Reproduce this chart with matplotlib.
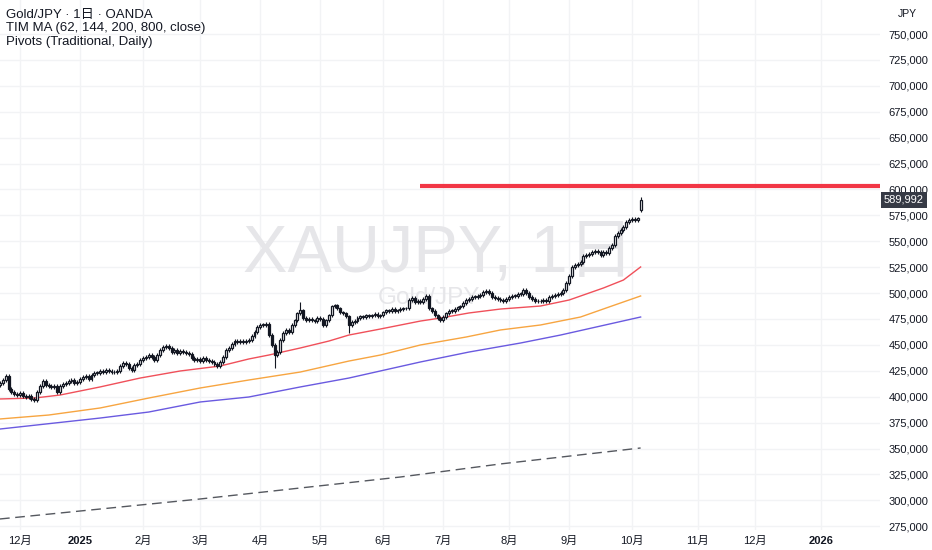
import numpy as np
import pandas as pd
import matplotlib
matplotlib.use("Agg")
import matplotlib.pyplot as plt
from matplotlib.transforms import blended_transform_factory

plt.rcParams['font.family'] = ['Liberation Sans', 'Noto Sans CJK JP']

# ---------------- data (JPY thousands) ----------------
CLOSE_K = [
    413.2, 416.1, 420.0, 407.4, 404.5, 402.6, 401.6,
    403.6, 400.7, 399.7, 400.7, 397.8, 396.8, 404.5, 410.3, 415.1, 411.3,
    410.3, 409.4, 410.3, 404.5, 410.3, 412.3, 413.2, 415.1, 416.1, 413.2,
    414.2, 417.1, 419.0, 420.0, 417.1, 420.9, 422.9, 422.9, 424.8, 423.8,
    425.8, 424.8, 423.8, 423.8, 424.8, 429.6, 432.5, 431.6, 427.7, 425.8,
    430.6, 431.6, 435.4, 437.3, 438.3, 440.2, 438.3, 435.4, 440.2, 445.1,
    448.0, 448.9, 447.0, 443.1, 445.1, 442.2, 444.1, 443.1, 442.2, 441.2,
    437.3, 435.4, 436.4, 434.4, 437.3, 435.4, 434.4, 433.5, 431.6, 429.6,
    433.5, 438.3, 445.1, 447.0, 450.9, 453.7, 452.8, 453.7, 452.8, 453.7,
    454.7, 458.6, 462.4, 467.3, 469.2, 469.2, 470.2, 459.5, 449.9, 440.2,
    443.1, 454.7, 461.5, 464.4, 462.4, 469.2, 473.8, 480.6, 483.5, 475.9,
    473.8, 474.9, 473.8, 473.0, 475.9, 474.9, 469.2, 473.8, 478.5, 487.3,
    488.3, 485.4, 481.5, 480.6, 477.5, 469.2, 472.0, 473.0, 475.9, 477.5,
    476.8, 478.5, 477.5, 478.5, 479.8, 477.5, 478.5, 481.5, 483.5, 482.7,
    484.6, 482.7, 483.5, 484.6, 485.4, 485.4, 493.3, 495.2, 491.4, 492.3,
    491.4, 494.3, 497.2, 485.4, 482.7, 478.5, 475.9, 473.8, 476.8, 480.6,
    482.7, 482.7, 484.6, 486.4, 487.3, 490.4, 493.3, 494.3, 496.2, 496.2,
    497.2, 498.1, 501.0, 502.0, 500.1, 496.2, 495.2, 494.3, 493.3, 492.3,
    494.3, 496.2, 497.2, 497.2, 499.1, 499.1, 503.0, 500.1, 496.2, 494.3,
    492.3, 492.3, 492.3, 493.3, 492.3, 496.2, 497.2, 498.1, 499.1, 500.1,
    503.0, 509.7, 516.5, 525.1, 527.1, 528.1, 530.0, 535.8, 536.7, 537.7,
    539.6, 540.6, 539.6, 536.7, 539.6, 538.7, 543.5, 546.4, 555.1, 558.0,
    560.9, 563.8, 568.6, 570.5, 571.5, 570.5, 572.0, 589.992,
]
FIRST_OPEN_K = 411.0
GAP_OPEN_K = {'2025-10-06': 580.0}
WICK_K = 1.6
EXTREME_HIGH_K = {'2025-04-22': 491.4, '2025-10-06': 592.7}
EXTREME_LOW_K = {'2024-12-09': 394.9, '2025-04-08': 427.7, '2025-05-15': 461.5}
LAST_PRICE = 589992
LAST_DATE = '2025-10-06'
HOLIDAYS = ['2024-12-25', '2025-01-01', '2025-04-18']

# moving averages: (bar number, value in thousands)
MA62_BARS = [0, 12, 21, 35, 49, 63, 77, 87, 94, 105, 115, 122, 133, 147, 154, 164, 175, 189, 199, 211, 218, 224]
MA62_K = [397.8, 398.7, 401.6, 409.4, 418.0, 424.8, 429.6, 436.4, 440.2, 447.0, 453.7, 459.5, 465.3,
          473.0, 475.9, 480.8, 484.6, 487.5, 493.3, 504.9, 512.6, 525.2]
MA144_BARS = [0, 17, 35, 52, 70, 87, 105, 122, 133, 147, 163, 175, 189, 203, 213, 224]
MA144_K = [378.5, 382.3, 389.1, 398.7, 408.4, 416.1, 423.8, 434.4, 440.2, 449.9, 457.6, 464.4, 469.2,
           476.9, 486.6, 497.2]
MA200_BARS = [0, 35, 52, 70, 87, 105, 122, 147, 164, 182, 196, 210, 224]
MA200_K = [368.8, 379.4, 385.2, 394.9, 399.7, 409.4, 418.0, 433.5, 443.1, 451.8, 459.5, 468.2, 476.9]
MA800_BARS = [0, 35, 70, 105, 140, 175, 224]
MA800_K = [282.0, 291.6, 301.3, 311.9, 322.5, 335.1, 350.5]

PIVOT = 603600
PIVOT_START = '2025-06-19'

Y_TICKS = list(range(275000, 750001, 25000))

LEGEND = ["Gold/JPY · 1日 · OANDA", "TIM MA (62, 144, 200, 800, close)", "Pivots (Traditional, Daily)"]
WATERMARK = "XAUJPY, 1日"
WATERMARK_SUB = "Gold/JPY"

# ---------------- build ----------------
n = len(CLOSE_K)
bd = pd.bdate_range('2024-11-01', LAST_DATE)
bd = bd[~bd.isin(pd.to_datetime(HOLIDAYS))]
dates = bd[-n:]
future = pd.bdate_range(pd.Timestamp(LAST_DATE) + pd.Timedelta(days=1), '2026-01-31')
all_dates = dates.append(future)
dkey = [d.strftime('%Y-%m-%d') for d in dates]

close = np.array(CLOSE_K) * 1000
opn = np.r_[FIRST_OPEN_K * 1000, close[:-1]]
for k, v in GAP_OPEN_K.items():
    opn[dkey.index(k)] = v * 1000
hi = np.maximum(opn, close) + WICK_K * 1000
lo = np.minimum(opn, close) - WICK_K * 1000
for k, v in EXTREME_HIGH_K.items():
    hi[dkey.index(k)] = v * 1000
for k, v in EXTREME_LOW_K.items():
    lo[dkey.index(k)] = v * 1000

x = np.arange(n)
W, H = 932, 550
fig = plt.figure(figsize=(W / 100, H / 100), dpi=100)
ax = fig.add_axes([0, 20 / H, 880 / W, 530 / H])
ax.set_facecolor('white')

px_per_bar = 2.86
dec2 = dkey.index('2024-12-02')
xmin = dec2 - 20 / px_per_bar
xmax = dec2 + 860 / px_per_bar
ax.set_xlim(xmin, xmax)
ax.set_ylim(271360, 782810)

# grid
months = pd.period_range('2024-12', '2026-01', freq='M')
tick_pos, tick_lab, tick_bold = [], [], []
for m in months:
    idx = np.where((all_dates.year == m.year) & (all_dates.month == m.month))[0]
    if len(idx) == 0:
        continue
    tick_pos.append(idx[0])
    if m.month == 1:
        tick_lab.append(str(m.year)); tick_bold.append(True)
    else:
        tick_lab.append(f"{m.month}月"); tick_bold.append(False)
for p in tick_pos:
    ax.axvline(p, color='#f2f3f5', lw=1, zorder=0)
for yv in Y_TICKS:
    ax.axhline(yv, color='#f2f3f5', lw=1, zorder=0)

# watermark
ax.text(0.498, 1 - 255 / 530, WATERMARK, transform=ax.transAxes, ha='center', va='center',
        fontsize=48, color='#e6e6e9', zorder=1)
ax.text(0.488, 1 - 298 / 530, WATERMARK_SUB, transform=ax.transAxes, ha='center', va='center',
        fontsize=17.5, color='#e6e6e9', zorder=1)

# MAs
ax.plot(MA800_BARS, np.array(MA800_K) * 1000, color='#55585f', lw=1, ls=(0, (7, 4)), zorder=2)
ax.plot(MA200_BARS, np.array(MA200_K) * 1000, color='#6a5ae0', lw=1, zorder=2)
ax.plot(MA144_BARS, np.array(MA144_K) * 1000, color='#f7a541', lw=1, zorder=2)
ax.plot(MA62_BARS, np.array(MA62_K) * 1000, color='#f0505a', lw=1, zorder=2)

# pivot
ps = list(all_dates.strftime('%Y-%m-%d')).index(PIVOT_START)
ax.hlines(PIVOT, ps, xmax, color='#f23645', lw=3, zorder=2)

# candles
dark = '#131722'
ax.vlines(x, lo, hi, color=dark, lw=0.8, zorder=3)
up = close >= opn
bottom = np.minimum(opn, close)
height = np.maximum(np.abs(close - opn), 500)
ax.bar(x[up], height[up], bottom=bottom[up], width=0.68, facecolor='white',
       edgecolor=dark, linewidth=0.9, zorder=4)
ax.bar(x[~up], height[~up], bottom=bottom[~up], width=0.68, facecolor=dark,
       edgecolor=dark, linewidth=0.9, zorder=4)

# axes styling
for s in ax.spines.values():
    s.set_visible(False)
ax.yaxis.tick_right()
ax.set_yticks(Y_TICKS)
ax.set_yticklabels([f"{v:,}" for v in Y_TICKS])
ax.tick_params(axis='y', length=0, pad=6, labelsize=8, labelcolor=dark)
ax.set_xticks(tick_pos)
ax.set_xticklabels(tick_lab)
ax.tick_params(axis='x', length=0, pad=4, labelsize=8, labelcolor=dark)
for t, b in zip(ax.get_xticklabels(), tick_bold):
    if b:
        t.set_fontweight('bold')

# last price label
tr = blended_transform_factory(ax.transAxes, ax.transData)
ax.text(1.0 + 4 / 880, LAST_PRICE, f"{LAST_PRICE:,}", transform=tr, ha='left', va='center',
        fontsize=8, color='white', zorder=10, clip_on=False,
        bbox=dict(boxstyle='square,pad=0.28', facecolor='#363a45', edgecolor='none'))

# header texts
fig.text(898 / W, 1 - 14 / H, "JPY", fontsize=7.5, color=dark, va='center', ha='left')
for i, s in enumerate(LEGEND):
    fig.text(6 / W, 1 - (15 + 13.5 * i) / H, s, fontsize=9.5, color=dark, va='center', ha='left')

fig.savefig('out.png', dpi=100, facecolor='white')
